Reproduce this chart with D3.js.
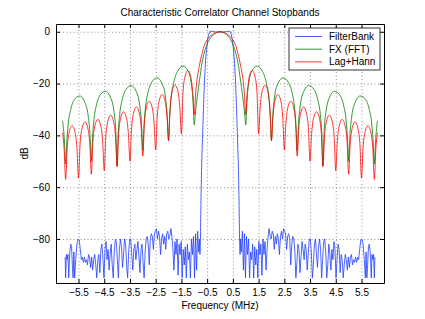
<!DOCTYPE html>
<html>
<head>
<meta charset="utf-8">
<script src="https://cdnjs.cloudflare.com/ajax/libs/d3/7.8.5/d3.min.js"></script>
<style>
    body { margin: 0; background: #fff; }
    text { font-family: "Liberation Sans", Arial, sans-serif; fill: #000; }
</style>
</head>
<body>
<div id="chart"></div>
<script>
// tick values and series names
var xTicks = [-5.5, -4.5, -3.5, -2.5, -1.5, -0.5, 0.5, 1.5, 2.5, 3.5, 4.5, 5.5];
var yTicks = [0, -20, -40, -60, -80];
var seriesNames = ["FilterBank", "FX (FFT)", "Lag+Hann"];

// [frequency MHz, dB]
var filterBank = [
    [-6.02,-87],[-6.00,-95],[-5.97,-86],[-5.94,-88],[-5.91,-86],[-5.88,-95],[-5.84,-85],[-5.80,-82],
    [-5.77,-83],[-5.74,-90],[-5.71,-95],[-5.68,-85],[-5.65,-95],[-5.61,-88],[-5.56,-82],[-5.51,-80],
    [-5.47,-80.5],[-5.43,-84],[-5.39,-88],[-5.35,-87],[-5.31,-89],[-5.27,-87],[-5.23,-89],[-5.19,-88],
    [-5.15,-90],[-5.11,-86],[-5.07,-87],[-5.03,-91],[-4.99,-87],[-4.95,-92],[-4.91,-88],[-4.87,-86],
    [-4.83,-90],[-4.79,-95],[-4.75,-88],[-4.71,-86],[-4.67,-93],[-4.63,-84],[-4.59,-82],[-4.55,-88],
    [-4.51,-95],[-4.47,-84],[-4.43,-81],[-4.39,-88],[-4.35,-84],[-4.31,-92],[-4.27,-86],[-4.23,-82],
    [-4.19,-90],[-4.15,-95],[-4.11,-85],[-4.07,-80],[-4.03,-81],[-3.99,-88],[-3.95,-95],[-3.91,-84],
    [-3.87,-80],[-3.83,-83],[-3.79,-91],[-3.75,-86],[-3.71,-80],[-3.67,-82],[-3.63,-90],[-3.59,-95],
    [-3.55,-85],[-3.51,-80],[-3.47,-80],[-3.43,-86],[-3.39,-92],[-3.35,-84],[-3.31,-82],[-3.27,-88],
    [-3.23,-84],[-3.19,-81],[-3.15,-87],[-3.11,-93],[-3.07,-84],[-3.03,-82],[-2.99,-89],[-2.95,-95],
    [-2.91,-85],[-2.87,-80],[-2.83,-79],[-2.79,-82],[-2.75,-90],[-2.71,-80],[-2.67,-78],[-2.63,-79],
    [-2.59,-84],[-2.55,-78],[-2.51,-77],[-2.47,-76],[-2.43,-80],[-2.39,-77],[-2.35,-79],[-2.31,-86],
    [-2.27,-80],[-2.23,-78],[-2.19,-82],[-2.15,-79],[-2.11,-84],[-2.07,-78],[-2.03,-77],[-1.99,-80],
    [-1.95,-79],[-1.91,-76],[-1.87,-79],[-1.83,-84],[-1.79,-92],[-1.75,-81],[-1.71,-86],[-1.67,-80],
    [-1.63,-94],[-1.59,-82],[-1.55,-86],[-1.51,-81],[-1.47,-95],[-1.43,-84],[-1.39,-90],[-1.35,-83],
    [-1.31,-95],[-1.27,-82],[-1.23,-88],[-1.19,-85],[-1.15,-95],[-1.11,-80],[-1.07,-86],[-1.03,-79],
    [-0.99,-95],[-0.95,-78],[-0.91,-92],[-0.87,-77],[-0.83,-85],[-0.80,-80],[-0.78,-86],
    [-0.76,-80],[-0.74,-65],[-0.71,-50],[-0.67,-38],[-0.63,-26],[-0.60,-18],[-0.56,-11],[-0.52,-6.5],
    [-0.48,-3.2],[-0.44,-1.1],[-0.40,0.1],[-0.33,0.2],[-0.20,0],[-0.10,-0.1],[0,0],
    [0.10,-0.1],[0.20,0],[0.33,0.2],[0.40,0.1],[0.44,-1.1],[0.48,-3.2],[0.52,-6.5],[0.56,-11],
    [0.60,-18],[0.63,-26],[0.67,-38],[0.71,-50],[0.74,-65],[0.76,-80],
    [0.78,-86],[0.80,-80],[0.83,-85],[0.87,-77],[0.91,-92],[0.95,-78],[0.99,-95],
    [1.03,-79],[1.07,-86],[1.11,-80],[1.15,-95],[1.19,-85],[1.23,-88],[1.27,-82],[1.31,-95],
    [1.35,-83],[1.39,-90],[1.43,-84],[1.47,-95],[1.51,-81],[1.55,-86],[1.59,-82],[1.63,-94],
    [1.67,-80],[1.71,-86],[1.75,-81],[1.79,-92],[1.83,-84],[1.87,-79],[1.91,-76],[1.95,-79],
    [1.99,-80],[2.03,-77],[2.07,-78],[2.11,-84],[2.15,-79],[2.19,-82],[2.23,-78],[2.27,-80],
    [2.31,-86],[2.35,-79],[2.39,-77],[2.43,-80],[2.47,-76],[2.51,-77],[2.55,-78],[2.59,-84],
    [2.63,-79],[2.67,-78],[2.71,-80],[2.75,-90],[2.79,-82],[2.83,-79],[2.87,-80],[2.91,-85],
    [2.95,-95],[2.99,-89],[3.03,-82],[3.07,-84],[3.11,-93],[3.15,-87],[3.19,-81],[3.23,-84],
    [3.27,-88],[3.31,-82],[3.35,-84],[3.39,-92],[3.43,-86],[3.47,-80],[3.51,-80],[3.55,-85],
    [3.59,-95],[3.63,-90],[3.67,-82],[3.71,-80],[3.75,-86],[3.79,-91],[3.83,-83],[3.87,-80],
    [3.91,-84],[3.95,-95],[3.99,-88],[4.03,-81],[4.07,-80],[4.11,-85],[4.15,-95],[4.19,-90],
    [4.23,-82],[4.27,-86],[4.31,-92],[4.35,-84],[4.39,-88],[4.43,-81],[4.47,-84],[4.51,-95],
    [4.55,-88],[4.59,-82],[4.63,-84],[4.67,-93],[4.71,-86],[4.75,-88],[4.79,-95],[4.83,-90],
    [4.87,-86],[4.91,-88],[4.95,-92],[4.99,-87],[5.03,-91],[5.07,-87],[5.11,-86],[5.15,-90],
    [5.19,-88],[5.23,-89],[5.27,-87],[5.31,-89],[5.35,-87],[5.39,-88],[5.43,-84],[5.47,-80.5],
    [5.51,-80],[5.56,-82],[5.61,-88],[5.65,-95],[5.68,-85],[5.71,-95],[5.74,-90],[5.77,-83],
    [5.80,-82],[5.84,-85],[5.88,-95],[5.91,-86],[5.94,-88],[5.97,-86],[6.00,-95],[6.02,-87]
];

var fxFFT = [
    [-6.12,-34.4],[-6.05,-41.7],[-6.00,-51],
    [-5.96,-43.5],[-5.90,-35.6],[-5.80,-29.9],[-5.65,-26.0],[-5.45,-24.8],[-5.25,-27.4],[-5.12,-32.8],[-5.05,-40.1],[-5.00,-50],
    [-4.96,-41.9],[-4.90,-34.0],[-4.80,-28.2],[-4.65,-24.3],[-4.45,-23.0],[-4.25,-25.5],[-4.12,-30.9],[-4.05,-38.2],[-4.00,-52],
    [-3.96,-39.9],[-3.90,-32.0],[-3.80,-26.2],[-3.65,-22.2],[-3.45,-20.8],[-3.25,-23.2],[-3.12,-28.5],[-3.05,-35.7],[-3.00,-46],
    [-2.96,-37.4],[-2.90,-29.4],[-2.80,-23.5],[-2.65,-19.4],[-2.45,-17.8],[-2.25,-20.0],[-2.12,-25.2],[-2.05,-32.3],[-2.00,-42],
    [-1.96,-33.8],[-1.90,-25.7],[-1.80,-19.7],[-1.65,-15.3],[-1.45,-13.3],[-1.25,-14.9],[-1.12,-19.6],[-1.05,-26.5],[-1.00,-36],
    [-0.97,-33],[-0.93,-29],[-0.87,-24],[-0.80,-19],[-0.70,-12],[-0.60,-7.8],[-0.50,-4.8],[-0.40,-2.9],[-0.30,-1.6],[-0.20,-0.7],
    [0,0],
    [0.20,-0.7],[0.30,-1.6],[0.40,-2.9],[0.50,-4.8],[0.60,-7.8],[0.70,-12],[0.80,-19],[0.87,-24],[0.93,-29],[0.97,-33],
    [1.00,-36],[1.05,-26.5],[1.12,-19.6],[1.25,-14.9],[1.45,-13.3],[1.65,-15.3],[1.80,-19.7],[1.90,-25.7],[1.96,-33.8],
    [2.00,-42],[2.05,-32.3],[2.12,-25.2],[2.25,-20.0],[2.45,-17.8],[2.65,-19.4],[2.80,-23.5],[2.90,-29.4],[2.96,-37.4],
    [3.00,-46],[3.05,-35.7],[3.12,-28.5],[3.25,-23.2],[3.45,-20.8],[3.65,-22.2],[3.80,-26.2],[3.90,-32.0],[3.96,-39.9],
    [4.00,-52],[4.05,-38.2],[4.12,-30.9],[4.25,-25.5],[4.45,-23.0],[4.65,-24.3],[4.80,-28.2],[4.90,-34.0],[4.96,-41.9],
    [5.00,-50],[5.05,-40.1],[5.12,-32.8],[5.25,-27.4],[5.45,-24.8],[5.65,-26.0],[5.80,-29.9],[5.90,-35.6],[5.96,-43.5],
    [6.00,-51],[6.05,-41.7],[6.12,-34.4]
];

var lagHann = [
    [-6.12,-39],[-6.06,-45],[-6.00,-57],
    [-5.94,-45],[-5.875,-39.3],[-5.75,-36.3],[-5.625,-39.3],[-5.56,-45],[-5.50,-56.5],
    [-5.44,-43.5],[-5.375,-37.8],[-5.25,-34.8],[-5.125,-37.8],[-5.06,-43.5],[-5.00,-55],
    [-4.94,-42.5],[-4.875,-36.8],[-4.75,-33.8],[-4.625,-36.8],[-4.56,-42.5],[-4.50,-53.7],
    [-4.44,-40.9],[-4.375,-35.2],[-4.25,-32.2],[-4.125,-35.2],[-4.06,-40.9],[-4.00,-52],
    [-3.94,-39.6],[-3.875,-33.9],[-3.75,-30.9],[-3.625,-33.9],[-3.56,-39.6],[-3.50,-50],
    [-3.44,-37.7],[-3.375,-32],[-3.25,-29],[-3.125,-32],[-3.06,-37.7],[-3.00,-48],
    [-2.94,-35.5],[-2.875,-29.8],[-2.75,-26.8],[-2.625,-29.8],[-2.56,-35.5],[-2.50,-45.6],
    [-2.44,-32.9],[-2.375,-27.2],[-2.25,-24.2],[-2.125,-27.2],[-2.06,-32.9],[-2.00,-42],
    [-1.94,-29.3],[-1.875,-23.6],[-1.75,-20.6],[-1.625,-23.6],[-1.56,-29.3],[-1.50,-39.5],
    [-1.44,-23.7],[-1.375,-18],[-1.25,-15],[-1.125,-18],[-1.06,-23.7],[-1.00,-32],
    [-0.95,-24],[-0.90,-19],[-0.80,-13],[-0.70,-8.5],[-0.60,-5],[-0.50,-3.2],[-0.40,-1.9],[-0.20,-0.5],
    [0,0],
    [0.20,-0.5],[0.40,-1.9],[0.50,-3.2],[0.60,-5],[0.70,-8.5],[0.80,-13],[0.90,-19],[0.95,-24],
    [1.00,-32],[1.06,-23.7],[1.125,-18],[1.25,-15],[1.375,-18],[1.44,-23.7],
    [1.50,-39.5],[1.56,-29.3],[1.625,-23.6],[1.75,-20.6],[1.875,-23.6],[1.94,-29.3],
    [2.00,-42],[2.06,-32.9],[2.125,-27.2],[2.25,-24.2],[2.375,-27.2],[2.44,-32.9],
    [2.50,-45.6],[2.56,-35.5],[2.625,-29.8],[2.75,-26.8],[2.875,-29.8],[2.94,-35.5],
    [3.00,-48],[3.06,-37.7],[3.125,-32],[3.25,-29],[3.375,-32],[3.44,-37.7],
    [3.50,-50],[3.56,-39.6],[3.625,-33.9],[3.75,-30.9],[3.875,-33.9],[3.94,-39.6],
    [4.00,-52],[4.06,-40.9],[4.125,-35.2],[4.25,-32.2],[4.375,-35.2],[4.44,-40.9],
    [4.50,-53.7],[4.56,-42.5],[4.625,-36.8],[4.75,-33.8],[4.875,-36.8],[4.94,-42.5],
    [5.00,-55],[5.06,-43.5],[5.125,-37.8],[5.25,-34.8],[5.375,-37.8],[5.44,-43.5],
    [5.50,-56.5],[5.56,-45],[5.625,-39.3],[5.75,-36.3],[5.875,-39.3],[5.94,-45],
    [6.00,-57],[6.06,-45],[6.12,-39]
];

var width = 425,
    height = 319,
    margin = {top: 24, right: 41, bottom: 36, left: 56},
    w = width - margin.left - margin.right,
    h = height - margin.top - margin.bottom;

var colors = ["#1f3dff", "#008000", "#ff0000"];

var svg = d3.select("#chart").append("svg")
    .attr("width", width)
    .attr("height", height);

var g = svg.append("g")
    .attr("transform", "translate(" + margin.left + "," + margin.top + ")");

var x = d3.scaleLinear().domain([-6.375, 6.375]).range([0, w]);
var y = d3.scaleLinear().domain([-97, 3]).range([h, 0]);

// dotted grid
g.append("g")
    .attr("class", "grid")
    .attr("transform", "translate(0," + h + ")")
    .call(d3.axisBottom(x).tickValues(xTicks).tickSize(-h).tickFormat(""))
    .call(function(s) { s.select(".domain").remove(); });

g.append("g")
    .attr("class", "grid")
    .call(d3.axisLeft(y).tickValues(yTicks).tickSize(-w).tickFormat(""))
    .call(function(s) { s.select(".domain").remove(); });

g.selectAll(".grid line")
    .style("stroke", "#777")
    .style("stroke-width", 0.8)
    .style("stroke-dasharray", "1,2.5");

g.append("clipPath").attr("id", "clip")
    .append("rect").attr("width", w).attr("height", h);

var line = d3.line()
    .x(function(d) { return x(d[0]); })
    .y(function(d) { return y(d[1]); });

var series = [filterBank, fxFFT, lagHann];

g.append("g")
    .attr("clip-path", "url(#clip)")
    .selectAll("path")
    .data(series)
    .enter().append("path")
    .attr("fill", "none")
    .attr("stroke", function(d, i) { return colors[i]; })
    .attr("stroke-width", 0.8)
    .attr("stroke-linejoin", "round")
    .attr("d", function(d, i) {
        return line.curve(i === 0 ? d3.curveLinear : d3.curveMonotoneX)(d);
    });

// axes with inward ticks on all four sides
var xAxis = g.append("g")
    .attr("transform", "translate(0," + h + ")")
    .call(d3.axisBottom(x).tickValues(xTicks).tickSizeInner(-4).tickSizeOuter(0)
        .tickPadding(6).tickFormat(d3.format(".1f")));

g.append("g")
    .call(d3.axisTop(x).tickValues(xTicks).tickSizeInner(-4).tickSizeOuter(0).tickFormat(""));

var yAxis = g.append("g")
    .call(d3.axisLeft(y).tickValues(yTicks).tickSizeInner(-4).tickSizeOuter(0)
        .tickPadding(6).tickFormat(d3.format("d")));

g.append("g")
    .attr("transform", "translate(" + w + ",0)")
    .call(d3.axisRight(y).tickValues(yTicks).tickSizeInner(-4).tickSizeOuter(0).tickFormat(""));

g.selectAll(".domain").style("stroke", "#000").style("stroke-width", 1);
g.selectAll(".tick text")
    .style("font-family", "'Liberation Sans', Arial, sans-serif")
    .style("font-size", "10px");

// title and axis labels
svg.append("text")
    .attr("x", margin.left + w / 2)
    .attr("y", 16)
    .attr("text-anchor", "middle")
    .style("font-size", "10px")
    .text("Characteristic Correlator Channel Stopbands");

svg.append("text")
    .attr("x", margin.left + w / 2)
    .attr("y", 309)
    .attr("text-anchor", "middle")
    .style("font-size", "10px")
    .text("Frequency (MHz)");

svg.append("text")
    .attr("transform", "translate(28," + (margin.top + y(-47)) + ") rotate(-90)")
    .attr("text-anchor", "middle")
    .style("font-size", "10px")
    .text("dB");

// legend
var legend = svg.append("g").attr("transform", "translate(289,28)");

legend.append("rect")
    .attr("width", 91)
    .attr("height", 42)
    .attr("fill", "#fff")
    .attr("stroke", "#000")
    .attr("stroke-width", 0.8);

var item = legend.selectAll(".item")
    .data(seriesNames)
    .enter().append("g")
    .attr("class", "item")
    .attr("transform", function(d, i) { return "translate(0," + (8.5 + i * 12.7) + ")"; });

item.append("line")
    .attr("x1", 6).attr("x2", 33)
    .attr("stroke", function(d, i) { return colors[i]; })
    .attr("stroke-width", 0.8);

item.append("text")
    .attr("x", 40)
    .attr("dy", "0.35em")
    .style("font-size", "10px")
    .text(function(d) { return d; });
</script>
</body>
</html>
